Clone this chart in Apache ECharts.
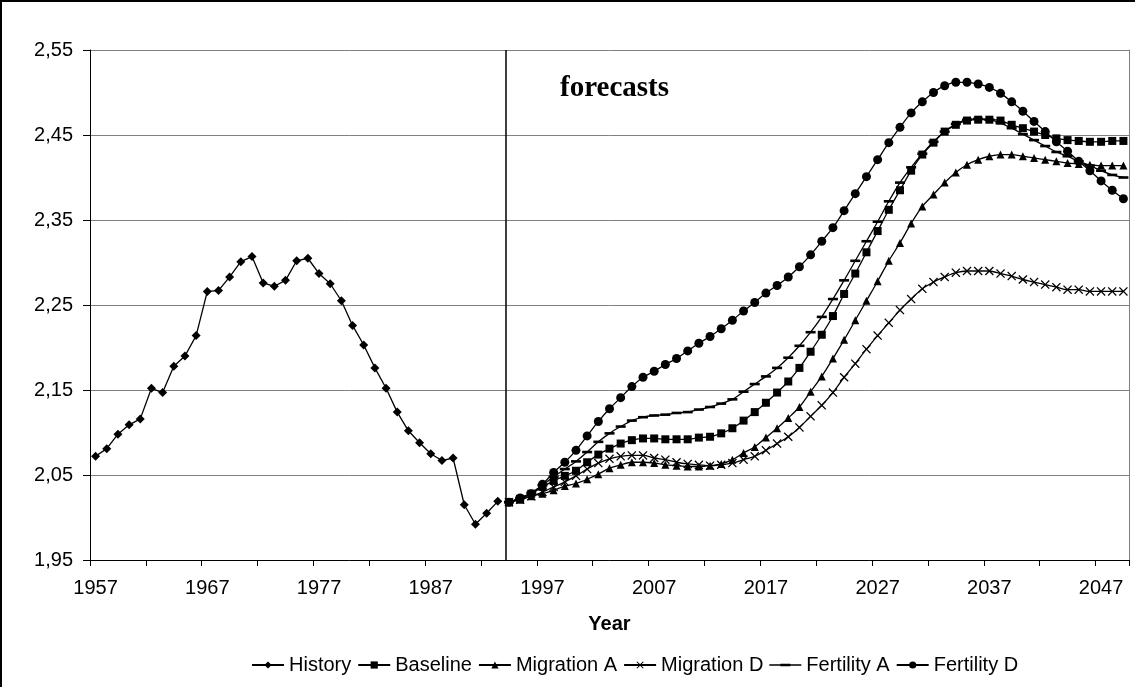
<!DOCTYPE html>
<html>
<head>
<meta charset="utf-8">
<script src="https://cdn.jsdelivr.net/npm/echarts@6/dist/echarts.min.js"></script>
<style>
  html, body { margin: 0; padding: 0; background: #fff; }
  #chart { width: 1135px; height: 687px; }
</style>
</head>
<body>
<div id="chart"></div>
<script>
// years 1957..2049, history up to 1993, forecasts from 1994
const firstYear = 1957;
const lastYear = 2049;
const years = [];
for (let y = firstYear; y <= lastYear; y++) years.push(String(y));

const yTicks = [1.95, 2.05, 2.15, 2.25, 2.35, 2.45, 2.55];
const forecastStart = 1993.7; // where the divider is drawn

const history = [
  2.072, 2.081, 2.098, 2.109, 2.116, 2.152, 2.147, 2.178, 2.190, 2.214,
  2.266, 2.267, 2.283, 2.301, 2.307, 2.276, 2.272, 2.279, 2.302, 2.305,
  2.287, 2.275, 2.255, 2.226, 2.203, 2.176, 2.152, 2.124, 2.102, 2.088,
  2.075, 2.067, 2.070, 2.015, 1.992, 2.005, 2.019
];

// 1994..2049
const baseline = [
  2.018, 2.022, 2.028, 2.036, 2.043, 2.049, 2.055, 2.065, 2.074, 2.081,
  2.087, 2.091, 2.093, 2.093, 2.092, 2.092, 2.092, 2.094, 2.095, 2.099,
  2.105, 2.114, 2.124, 2.135, 2.147, 2.160, 2.176, 2.195, 2.215, 2.237,
  2.263, 2.287, 2.312, 2.337, 2.362, 2.385, 2.408, 2.427, 2.441, 2.454,
  2.462, 2.467, 2.468, 2.468, 2.467, 2.462, 2.458, 2.454, 2.450, 2.446,
  2.444, 2.443, 2.442, 2.442, 2.443, 2.443
];
const migrationA = [
  2.018, 2.021, 2.025, 2.028, 2.032, 2.037, 2.040, 2.045, 2.051, 2.058,
  2.062, 2.065, 2.065, 2.064, 2.062, 2.061, 2.060, 2.060, 2.061, 2.063,
  2.068, 2.076, 2.083, 2.094, 2.105, 2.117, 2.130, 2.148, 2.166, 2.187,
  2.209, 2.232, 2.255, 2.278, 2.302, 2.323, 2.346, 2.366, 2.380, 2.394,
  2.406, 2.415, 2.421, 2.425, 2.427, 2.427, 2.425, 2.423, 2.421, 2.419,
  2.417, 2.416, 2.415, 2.414, 2.414, 2.414
];
const migrationD = [
  2.018, 2.021, 2.025, 2.030, 2.036, 2.042, 2.049, 2.057, 2.064, 2.069,
  2.072, 2.073, 2.073, 2.070, 2.068, 2.065, 2.063, 2.062, 2.061, 2.062,
  2.064, 2.068, 2.072, 2.079, 2.087, 2.095, 2.106, 2.119, 2.132, 2.147,
  2.165, 2.181, 2.198, 2.214, 2.229, 2.244, 2.257, 2.269, 2.277, 2.283,
  2.288, 2.290, 2.290, 2.290, 2.287, 2.284, 2.280, 2.277, 2.274, 2.271,
  2.268, 2.268, 2.266, 2.266, 2.266, 2.266
];
const fertilityA = [
  2.018, 2.023, 2.029, 2.038, 2.048, 2.057, 2.066, 2.077, 2.089, 2.099,
  2.107, 2.114, 2.118, 2.120, 2.121, 2.123, 2.124, 2.127, 2.130, 2.134,
  2.139, 2.148, 2.157, 2.166, 2.176, 2.188, 2.202, 2.218, 2.236, 2.257,
  2.279, 2.302, 2.325, 2.348, 2.372, 2.394, 2.412, 2.428, 2.442, 2.454,
  2.463, 2.468, 2.469, 2.468, 2.464, 2.458, 2.451, 2.444, 2.437, 2.430,
  2.425, 2.419, 2.414, 2.408, 2.403, 2.400
];
const fertilityD = [
  2.018, 2.023, 2.028, 2.039, 2.053, 2.065, 2.079, 2.096, 2.113, 2.128,
  2.141, 2.154, 2.165, 2.172, 2.180, 2.187, 2.196, 2.205, 2.213, 2.222,
  2.232, 2.243, 2.253, 2.264, 2.273, 2.283, 2.295, 2.309, 2.325, 2.341,
  2.361, 2.381, 2.401, 2.421, 2.441, 2.459, 2.476, 2.489, 2.500, 2.508,
  2.512, 2.512, 2.510, 2.506, 2.499, 2.489, 2.478, 2.466, 2.454, 2.442,
  2.431, 2.419, 2.408, 2.396, 2.385, 2.375
];

const nHist = history.length;
const historyData = history.concat(new Array(years.length - nHist).fill(null));
function forecastData(arr) {
  return new Array(nHist).fill(null).concat(arr);
}

const crossPath = 'path://M0,1L1,0L5,4L9,0L10,1L6,5L10,9L9,10L5,6L1,10L0,9L4,5Z';
const dashPath = 'path://M0,0L10,0L10,2.6L0,2.6Z';
// legend icon for Fertility A: the line with a short thick dash on it
const dashLegendIcon = 'path://M0,0.65H32V1.95H0Z M11,0H21V2.6H11Z';
const fontFamily = 'Liberation Sans, Arial, sans-serif';

function lineSeries(name, data, symbol, size, smooth) {
  return {
    name: name,
    type: 'line',
    data: data,
    symbol: symbol,
    symbolSize: size,
    symbolKeepAspect: true,
    smooth: smooth,
    connectNulls: false,
    showAllSymbol: true,
    animation: false,
    lineStyle: { color: '#000', width: 1.3 },
    itemStyle: { color: '#000', borderWidth: 0 },
    emphasis: { disabled: true }
  };
}

const chart = echarts.init(document.getElementById('chart'));
chart.setOption({
  backgroundColor: '#fff',
  animation: false,
  textStyle: { fontFamily: fontFamily, color: '#000' },
  grid: { left: 90, right: 6, top: 50, bottom: 127 },
  graphic: [
    {
      type: 'rect',
      shape: { x: 1, y: 1, width: 1140, height: 700 },
      style: { fill: 'none', stroke: '#000', lineWidth: 2 },
      silent: true
    },
    {
      type: 'text',
      left: 560,
      top: 74,
      style: {
        text: 'forecasts',
        font: 'bold 29px "Liberation Serif", "Times New Roman", serif',
        fill: '#000'
      }
    }
  ],
  legend: {
    data: [
      'History', 'Baseline', 'Migration A', 'Migration D',
      { name: 'Fertility A', icon: dashLegendIcon },
      'Fertility D'
    ],
    left: 246,
    top: 650,
    itemWidth: 32,
    itemHeight: 9,
    itemGap: 6,
    textStyle: { fontSize: 20, color: '#000', fontFamily: fontFamily }
  },
  xAxis: [
    {
      type: 'category',
      data: years,
      boundaryGap: true,
      name: 'Year',
      nameLocation: 'middle',
      nameGap: 54,
      nameTextStyle: { fontSize: 20, fontWeight: 'bold', color: '#000' },
      axisLine: { lineStyle: { color: '#000', width: 1 } },
      axisTick: { show: true, interval: 4, length: 6, lineStyle: { color: '#000' } },
      axisLabel: { interval: 9, fontSize: 20, color: '#000', margin: 18 },
      splitLine: { show: false }
    },
    {
      type: 'value',
      min: firstYear - 0.5,
      max: lastYear + 0.5,
      show: false
    }
  ],
  yAxis: [
    {
      type: 'value',
      min: yTicks[0],
      max: yTicks[yTicks.length - 1],
      axisLine: { show: true, lineStyle: { color: '#000', width: 1 } },
      axisTick: { show: true, length: 7, customValues: yTicks, lineStyle: { color: '#000' } },
      axisLabel: {
        customValues: yTicks,
        fontSize: 20,
        color: '#000',
        margin: 17,
        formatter: v => v.toFixed(2).replace('.', ',')
      },
      splitLine: { show: true, lineStyle: { color: '#808080', width: 1 } }
    },
    {
      type: 'value',
      position: 'right',
      min: yTicks[0],
      max: yTicks[yTicks.length - 1],
      axisLine: { show: true, lineStyle: { color: '#808080', width: 1 } },
      axisTick: { show: false },
      axisLabel: { show: false },
      splitLine: { show: false }
    }
  ],
  series: [
    lineSeries('History', historyData, 'diamond', 9, false),
    lineSeries('Baseline', forecastData(baseline), 'rect', 8, 0.3),
    lineSeries('Migration A', forecastData(migrationA), 'triangle', 8, 0.3),
    lineSeries('Migration D', forecastData(migrationD), crossPath, 9, 0.3),
    lineSeries('Fertility A', forecastData(fertilityA), dashPath, 10, 0.3),
    lineSeries('Fertility D', forecastData(fertilityD), 'circle', 9, 0.3),
    {
      name: 'divider',
      type: 'line',
      xAxisIndex: 1,
      data: [],
      silent: true,
      markLine: {
        silent: true,
        symbol: 'none',
        animation: false,
        label: { show: false },
        lineStyle: { color: '#000', type: 'solid', width: 1.5 },
        data: [{ xAxis: forecastStart }]
      }
    }
  ]
});
</script>
</body>
</html>
